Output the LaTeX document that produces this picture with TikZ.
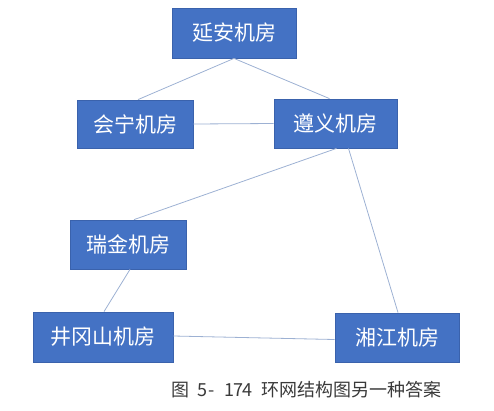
\documentclass[tikz,border=0pt]{standalone}
\usepackage{fontspec}
\newfontfamily\cjk{Noto Sans CJK SC}
\usetikzlibrary{calc}
\definecolor{boxblue}{HTML}{4472C4}
\definecolor{boxedge}{HTML}{3A62AC}
\definecolor{linkc}{HTML}{9DB1D3}
\definecolor{capc}{HTML}{3A3A3A}
\newcommand{\hw}[1]{\makebox[9pt][c]{#1}}
\tikzset{
  room/.style={draw=boxedge, line width=0.8pt, fill=boxblue, text=white,
    font=\cjk\fontsize{21}{24}\selectfont, inner sep=0pt, minimum height=49pt},
  link/.style={draw=linkc, line width=0.8pt}
}
\begin{document}
\begin{tikzpicture}[x=1pt,y=-1pt]
\useasboundingbox (0,0) rectangle (494,410);
\node[room, minimum width=124pt, minimum height=50pt] (ya) at (234,33) {延安机房};
\node[room, minimum width=116pt, minimum height=48pt] (hn) at (135,124) {会宁机房};
\node[room, minimum width=123pt] (zy) at (335.5,123.5) {遵义机房};
\node[room, minimum width=116pt] (rj) at (128,244.5) {瑞金机房};
\node[room, minimum width=140pt, minimum height=50pt] (jg) at (103,337) {井冈山机房};
\node[room, minimum width=124pt] (xj) at (397,337.5) {湘江机房};
\draw[link] (ya.south) -- ($(hn.north)+(3,0)$);
\draw[link] (ya.south) -- ($(zy.north)+(-6,0)$);
\draw[link] (hn.east) -- (zy.west);
\draw[link] ($(zy.south)+(1,0)$) -- ($(rj.north)+(6,0)$);
\draw[link] ($(zy.south)+(13,0)$) -- ($(xj.north)+(1,0)$);
\draw[link] ($(rj.south)+(2,0)$) -- ($(jg.north)+(1,0)$);
\draw[link] ($(jg.east)+(0,-1)$) -- ($(xj.west)+(0,2)$);
\node[text=capc, font=\cjk\fontsize{18}{20}\selectfont, anchor=west, inner sep=0pt] (cap) at (171,390) {\makebox[18pt][c]{图}\hw{}\hw{5}\hw{-}\hw{}\hw{1}\hw{7}\hw{4}\hw{}环网结构图另一种答案};
\end{tikzpicture}
\end{document}
